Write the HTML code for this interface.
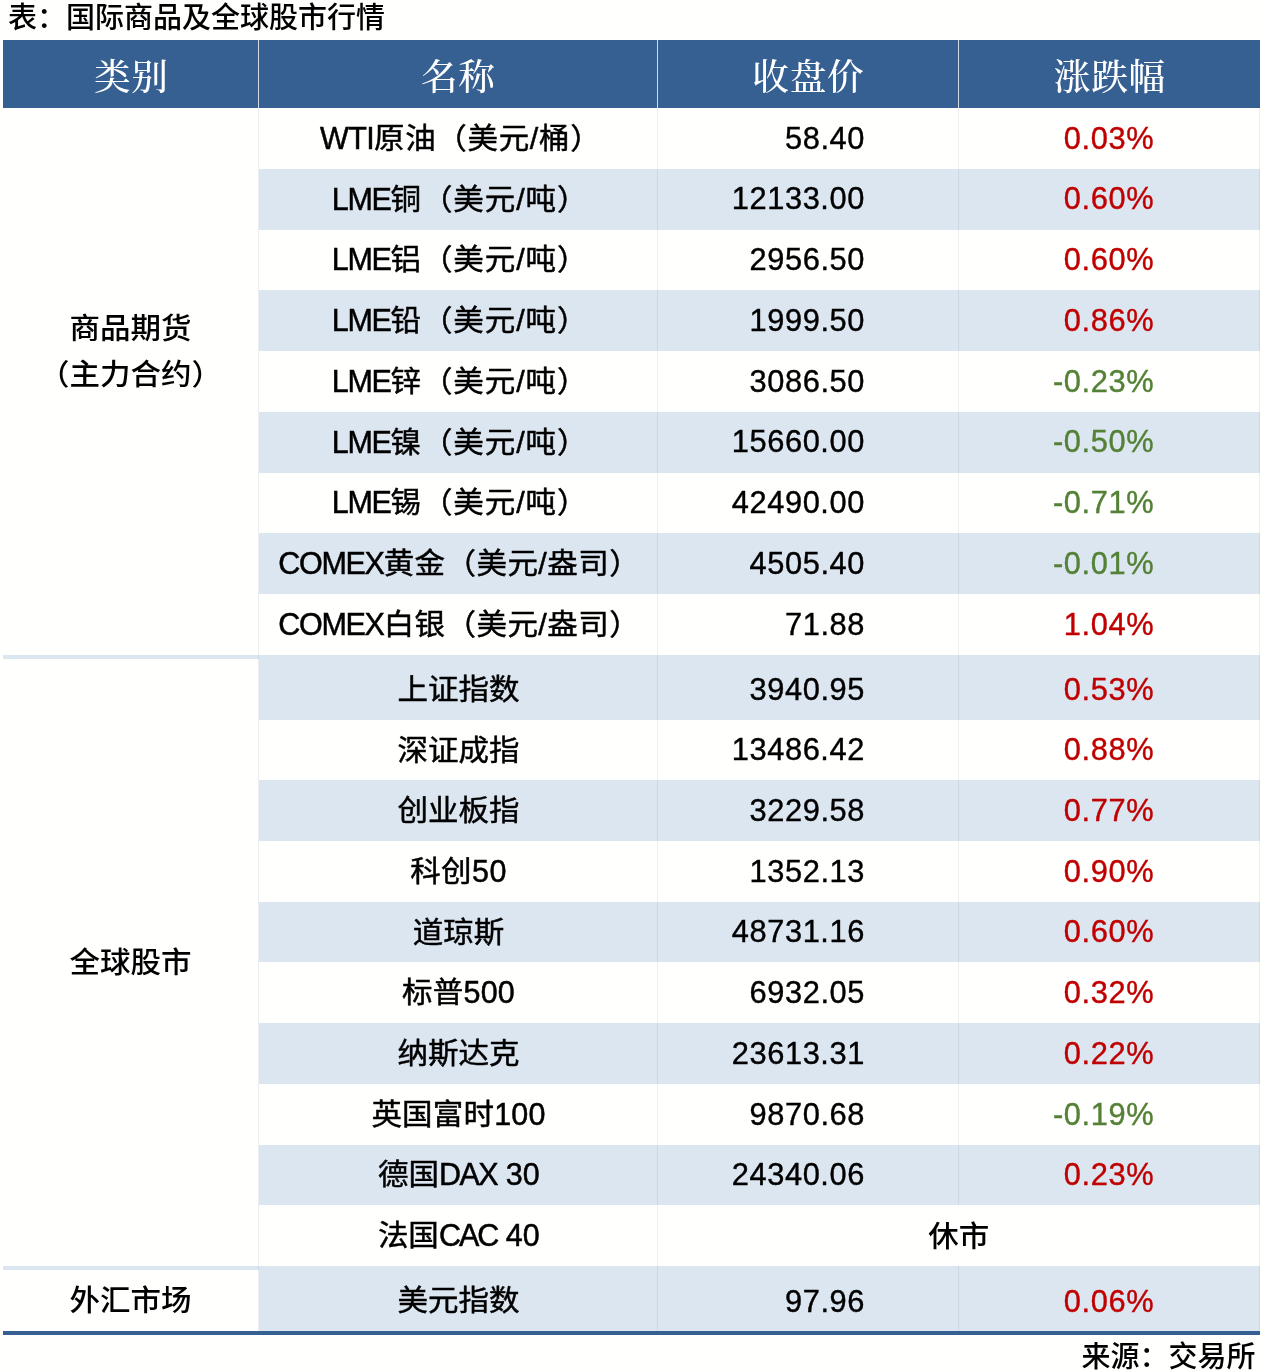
<!DOCTYPE html>
<html lang="zh-CN">
<head>
<meta charset="utf-8">
<title>国际商品及全球股市行情</title>
<style>
*{margin:0;padding:0;box-sizing:border-box}
html,body{width:1263px;height:1372px;background:#fffffd;overflow:hidden}
body{position:relative;font-family:"Liberation Sans","Noto Sans CJK SC",sans-serif;color:#000;font-weight:500;font-size:30.5px}
.abs{position:absolute}
.title{left:8px;top:-3px;font-size:29px;line-height:42px;white-space:nowrap}
.src{right:7.5px;top:1336px;font-size:29px;line-height:42px;white-space:nowrap}
.hd{left:3px;top:39.7px;width:1257px;height:68.4px;background:#366092}
.hc{font-weight:500;top:44.2px;height:68px;line-height:68px;text-align:center;color:#fff;font-family:"Liberation Serif","Noto Serif CJK SC",serif;font-size:36.7px;white-space:nowrap;letter-spacing:0.6px;padding-left:1.6px}
.vl{width:1px;background:rgba(110,120,165,0.13)}
.vh{width:1px;background:#d3dae6;top:39.7px;height:68.4px}
.row{left:259px;width:1001px}
.lt{background:#dce6f1}
.c{white-space:nowrap}
.nm{left:259px;width:399px;text-align:center;font-weight:400;-webkit-text-stroke:0.5px}
.pr{left:657px;width:208px;text-align:right;font-size:30.8px;letter-spacing:0.6px;-webkit-text-stroke:0.4px}
.ch{left:958px;width:196.2px;text-align:right;font-size:30.8px;letter-spacing:0.6px;-webkit-text-stroke:0.4px}
.mg{left:657.3px;width:603px;text-align:center}
.cat{left:3px;width:255px;text-align:center;line-height:48.6px;white-space:nowrap}
.sy{transform:scaleY(0.955)}
.l{display:inline-block;transform:scaleY(1.0471)}
.up{color:#c00000}
.dn{color:#538135}
.div{left:3px;width:1257px;height:4px;background:#dce6f1}
.bot{left:3px;width:1257px;top:1331px;height:3.8px;background:#366092}
</style>
</head>
<body>
<div class="abs title">表：国际商品及全球股市行情</div>
<div class="abs hd"></div>
<div class="abs hc" style="left:3px;width:255px">类别</div>
<div class="abs hc" style="left:258px;width:399px">名称</div>
<div class="abs hc" style="left:657px;width:301px">收盘价</div>
<div class="abs hc" style="left:958px;width:302px">涨跌幅</div>
<div class="abs vh" style="left:258px"></div>
<div class="abs vh" style="left:657px"></div>
<div class="abs vh" style="left:958px"></div>
<div class="abs row" style="top:108.00px;height:60.78px"></div>
<div class="abs c nm sy" style="top:107.80px;height:60.78px;line-height:60.78px;letter-spacing:0.67px;left:261.20px"><span class="l" style="letter-spacing:-0.65px">WTI</span>原油（美元/桶）</div>
<div class="abs c pr" style="top:108.60px;height:60.78px;line-height:60.78px">58.40</div>
<div class="abs c ch up" style="top:108.60px;height:60.78px;line-height:60.78px">0.03%</div>
<div class="abs row lt" style="top:168.78px;height:60.78px"></div>
<div class="abs c nm sy" style="top:168.58px;height:60.78px;line-height:60.78px;letter-spacing:0.9px;left:260.60px"><span class="l" style="letter-spacing:-1.33px">LME</span>铜（美元/吨）</div>
<div class="abs c pr" style="top:169.38px;height:60.78px;line-height:60.78px">12133.00</div>
<div class="abs c ch up" style="top:169.38px;height:60.78px;line-height:60.78px">0.60%</div>
<div class="abs row" style="top:229.56px;height:60.78px"></div>
<div class="abs c nm sy" style="top:229.36px;height:60.78px;line-height:60.78px;letter-spacing:0.9px;left:260.60px"><span class="l" style="letter-spacing:-1.33px">LME</span>铝（美元/吨）</div>
<div class="abs c pr" style="top:230.16px;height:60.78px;line-height:60.78px">2956.50</div>
<div class="abs c ch up" style="top:230.16px;height:60.78px;line-height:60.78px">0.60%</div>
<div class="abs row lt" style="top:290.33px;height:60.78px"></div>
<div class="abs c nm sy" style="top:290.13px;height:60.78px;line-height:60.78px;letter-spacing:0.9px;left:260.60px"><span class="l" style="letter-spacing:-1.33px">LME</span>铅（美元/吨）</div>
<div class="abs c pr" style="top:290.93px;height:60.78px;line-height:60.78px">1999.50</div>
<div class="abs c ch up" style="top:290.93px;height:60.78px;line-height:60.78px">0.86%</div>
<div class="abs row" style="top:351.11px;height:60.78px"></div>
<div class="abs c nm sy" style="top:350.91px;height:60.78px;line-height:60.78px;letter-spacing:0.9px;left:260.60px"><span class="l" style="letter-spacing:-1.33px">LME</span>锌（美元/吨）</div>
<div class="abs c pr" style="top:351.71px;height:60.78px;line-height:60.78px">3086.50</div>
<div class="abs c ch dn" style="top:351.71px;height:60.78px;line-height:60.78px">-0.23%</div>
<div class="abs row lt" style="top:411.89px;height:60.78px"></div>
<div class="abs c nm sy" style="top:411.69px;height:60.78px;line-height:60.78px;letter-spacing:0.9px;left:260.60px"><span class="l" style="letter-spacing:-1.33px">LME</span>镍（美元/吨）</div>
<div class="abs c pr" style="top:412.49px;height:60.78px;line-height:60.78px">15660.00</div>
<div class="abs c ch dn" style="top:412.49px;height:60.78px;line-height:60.78px">-0.50%</div>
<div class="abs row" style="top:472.67px;height:60.78px"></div>
<div class="abs c nm sy" style="top:472.47px;height:60.78px;line-height:60.78px;letter-spacing:0.9px;left:260.60px"><span class="l" style="letter-spacing:-1.33px">LME</span>锡（美元/吨）</div>
<div class="abs c pr" style="top:473.27px;height:60.78px;line-height:60.78px">42490.00</div>
<div class="abs c ch dn" style="top:473.27px;height:60.78px;line-height:60.78px">-0.71%</div>
<div class="abs row lt" style="top:533.44px;height:60.78px"></div>
<div class="abs c nm sy" style="top:533.24px;height:60.78px;line-height:60.78px;letter-spacing:0.44px;left:259.70px"><span class="l" style="letter-spacing:-1.3px">COMEX</span>黄金（美元/盎司）</div>
<div class="abs c pr" style="top:534.04px;height:60.78px;line-height:60.78px">4505.40</div>
<div class="abs c ch dn" style="top:534.04px;height:60.78px;line-height:60.78px">-0.01%</div>
<div class="abs row" style="top:594.22px;height:60.78px"></div>
<div class="abs c nm sy" style="top:594.02px;height:60.78px;line-height:60.78px;letter-spacing:0.44px;left:259.70px"><span class="l" style="letter-spacing:-1.3px">COMEX</span>白银（美元/盎司）</div>
<div class="abs c pr" style="top:594.82px;height:60.78px;line-height:60.78px">71.88</div>
<div class="abs c ch up" style="top:594.82px;height:60.78px;line-height:60.78px">1.04%</div>
<div class="abs div" style="top:655px"></div>
<div class="abs row lt" style="top:659.00px;height:60.70px"></div>
<div class="abs c nm sy" style="top:658.80px;height:60.70px;line-height:60.70px">上证指数</div>
<div class="abs c pr" style="top:659.60px;height:60.70px;line-height:60.70px">3940.95</div>
<div class="abs c ch up" style="top:659.60px;height:60.70px;line-height:60.70px">0.53%</div>
<div class="abs row" style="top:719.70px;height:60.70px"></div>
<div class="abs c nm sy" style="top:719.50px;height:60.70px;line-height:60.70px">深证成指</div>
<div class="abs c pr" style="top:720.30px;height:60.70px;line-height:60.70px">13486.42</div>
<div class="abs c ch up" style="top:720.30px;height:60.70px;line-height:60.70px">0.88%</div>
<div class="abs row lt" style="top:780.40px;height:60.70px"></div>
<div class="abs c nm sy" style="top:780.20px;height:60.70px;line-height:60.70px">创业板指</div>
<div class="abs c pr" style="top:781.00px;height:60.70px;line-height:60.70px">3229.58</div>
<div class="abs c ch up" style="top:781.00px;height:60.70px;line-height:60.70px">0.77%</div>
<div class="abs row" style="top:841.10px;height:60.70px"></div>
<div class="abs c nm sy" style="top:840.90px;height:60.70px;line-height:60.70px;letter-spacing:0.4px">科创<span class="l">50</span></div>
<div class="abs c pr" style="top:841.70px;height:60.70px;line-height:60.70px">1352.13</div>
<div class="abs c ch up" style="top:841.70px;height:60.70px;line-height:60.70px">0.90%</div>
<div class="abs row lt" style="top:901.80px;height:60.70px"></div>
<div class="abs c nm sy" style="top:901.60px;height:60.70px;line-height:60.70px">道琼斯</div>
<div class="abs c pr" style="top:902.40px;height:60.70px;line-height:60.70px">48731.16</div>
<div class="abs c ch up" style="top:902.40px;height:60.70px;line-height:60.70px">0.60%</div>
<div class="abs row" style="top:962.50px;height:60.70px"></div>
<div class="abs c nm sy" style="top:962.30px;height:60.70px;line-height:60.70px;letter-spacing:0.25px">标普<span class="l">500</span></div>
<div class="abs c pr" style="top:963.10px;height:60.70px;line-height:60.70px">6932.05</div>
<div class="abs c ch up" style="top:963.10px;height:60.70px;line-height:60.70px">0.32%</div>
<div class="abs row lt" style="top:1023.20px;height:60.70px"></div>
<div class="abs c nm sy" style="top:1023.00px;height:60.70px;line-height:60.70px">纳斯达克</div>
<div class="abs c pr" style="top:1023.80px;height:60.70px;line-height:60.70px">23613.31</div>
<div class="abs c ch up" style="top:1023.80px;height:60.70px;line-height:60.70px">0.22%</div>
<div class="abs row" style="top:1083.90px;height:60.70px"></div>
<div class="abs c nm sy" style="top:1083.70px;height:60.70px;line-height:60.70px;letter-spacing:0.18px">英国富时<span class="l">100</span></div>
<div class="abs c pr" style="top:1084.50px;height:60.70px;line-height:60.70px">9870.68</div>
<div class="abs c ch dn" style="top:1084.50px;height:60.70px;line-height:60.70px">-0.19%</div>
<div class="abs row lt" style="top:1144.60px;height:60.70px"></div>
<div class="abs c nm sy" style="top:1144.40px;height:60.70px;line-height:60.70px;left:259.30px">德国<span class="l" style="letter-spacing:-1.5px">DAX</span> <span class="l">30</span></div>
<div class="abs c pr" style="top:1145.20px;height:60.70px;line-height:60.70px">24340.06</div>
<div class="abs c ch up" style="top:1145.20px;height:60.70px;line-height:60.70px">0.23%</div>
<div class="abs row" style="top:1205.30px;height:60.70px"></div>
<div class="abs c nm sy" style="top:1205.10px;height:60.70px;line-height:60.70px;left:259.30px">法国<span class="l" style="letter-spacing:-2.0px">CAC</span> <span class="l">40</span></div>
<div class="abs c mg sy" style="top:1205.90px;height:60.70px;line-height:60.70px">休市</div>
<div class="abs div" style="top:1266px"></div>
<div class="abs row lt" style="top:1270.00px;height:61.00px"></div>
<div class="abs c nm sy" style="top:1269.80px;height:61.00px;line-height:61.00px">美元指数</div>
<div class="abs c pr" style="top:1270.60px;height:61.00px;line-height:61.00px">97.96</div>
<div class="abs c ch up" style="top:1270.60px;height:61.00px;line-height:61.00px">0.06%</div>
<div class="abs bot"></div>
<div class="abs vl" style="left:258px;top:108px;height:1223px"></div>
<div class="abs vl" style="left:657px;top:108px;height:1223px"></div>
<div class="abs vl" style="left:958px;top:108px;height:1097.3px"></div>
<div class="abs vl" style="left:958px;top:1266px;height:65px"></div>
<div class="abs vl" style="left:1259px;top:108px;height:1223px"></div>
<div class="abs cat sy" style="top:302.7px">商品期货<br>（主力合约）</div>
<div class="abs cat sy" style="top:937.6px">全球股市</div>
<div class="abs cat sy" style="top:1275.8px">外汇市场</div>
<div class="abs src">来源：交易所</div>
</body>
</html>
